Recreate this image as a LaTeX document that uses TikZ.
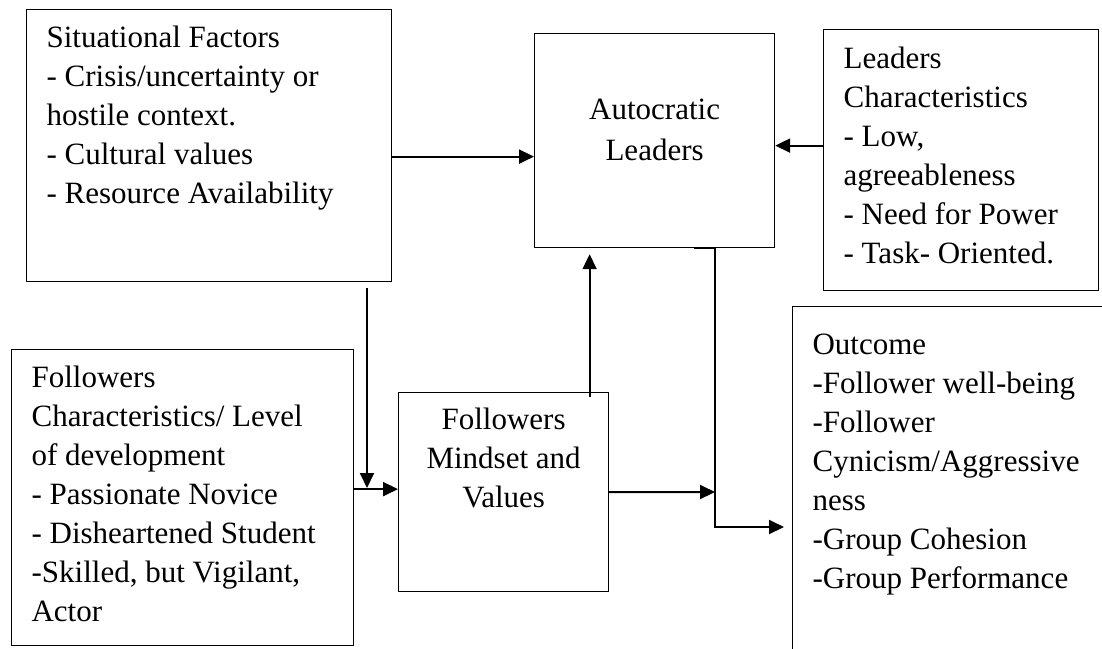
\documentclass[tikz,border=0pt]{standalone}
\usepackage{fontspec}
\setmainfont{Liberation Serif}
\usepackage{tikz}
\usetikzlibrary{arrows.meta}

\begin{document}
\begin{tikzpicture}[x=1pt, y=-1pt, line width=1.2pt, font=\fontsize{31}{39}\selectfont]
    \tikzstyle{box}=[draw=black, rectangle, inner xsep=20pt, inner ysep=0pt, anchor=north west, align=flush left]
    \tikzstyle{middle box}=[box, align=flush center]
    \tikzstyle{arrow}=[-{Triangle[length=15pt,width=14pt]}, line width=2pt]

    % Keep the page to the size of the reference
    \useasboundingbox (0,0) rectangle (1102,648);

    % Draw the boxes on the left
    \node[box, text width=325pt, text height=38pt, text depth=234pt] (sit) at (26,9)
        {Situational Factors\\- Crisis/uncertainty or\\hostile context.\\- Cultural values\\- Resource Availability};
    \node[box, text width=302pt, text height=38pt, text depth=258pt] (foll) at (11,349)
        {Followers\\Characteristics/ Level\\of development\\- Passionate Novice\\- Disheartened Student\\-Skilled, but Vigilant,\\Actor};

    % Draw the boxes in the middle
    \node[middle box, text width=200pt, text height=86pt, text depth=128pt] (autoc) at (534,33)
        {Autocratic\\[2pt]Leaders};
    \node[middle box, text width=170pt, text height=37pt, text depth=162pt] (mind) at (398,392)
        {Followers\\Mindset and\\Values};

    % Draw the boxes on the right (the outcome box runs off the page)
    \node[box, text width=235pt, text height=39pt, text depth=222pt] (lead) at (823,29)
        {Leaders\\Characteristics\\- Low,\\agreeableness\\- Need for Power\\- Task- Oriented.};
    \node[box, overlay, text width=300pt, text height=48pt, text depth=312pt] (out) at (792,306)
        {Outcome\\-Follower well-being\\-Follower\\Cynicism/Aggressive\\ness\\-Group Cohesion\\-Group Performance};

    % Points where the lines meet
    \coordinate (drop) at (367,488);
    \coordinate (meet) at (715,492);
    \coordinate (bend) at (715,527);

    % Connect the boxes
    \draw[arrow] ([yshift=-11pt]sit.east) -- ([yshift=-11pt]sit.east -| autoc.west);
    \draw[arrow] ([yshift=14.5pt]lead.west) -- ([yshift=14.5pt]lead.west -| autoc.east);
    \draw[arrow, shorten <=6pt] (sit.south -| drop) -- (drop);
    \draw[arrow] ([yshift=8.5pt]foll.east) -- ([yshift=8.5pt]foll.east -| mind.west);
    \draw[arrow, shorten <=-5pt, shorten >=6pt] ([xshift=86pt]mind.north) -- ([xshift=86pt]mind.north |- autoc.south);
    \draw[arrow] (mind.east) -- (meet);
    \draw[arrow, shorten >=8pt] ([xshift=39pt]autoc.south) -- (autoc.south -| bend) -- (bend) -- (bend -| out.west);
\end{tikzpicture}
\end{document}
